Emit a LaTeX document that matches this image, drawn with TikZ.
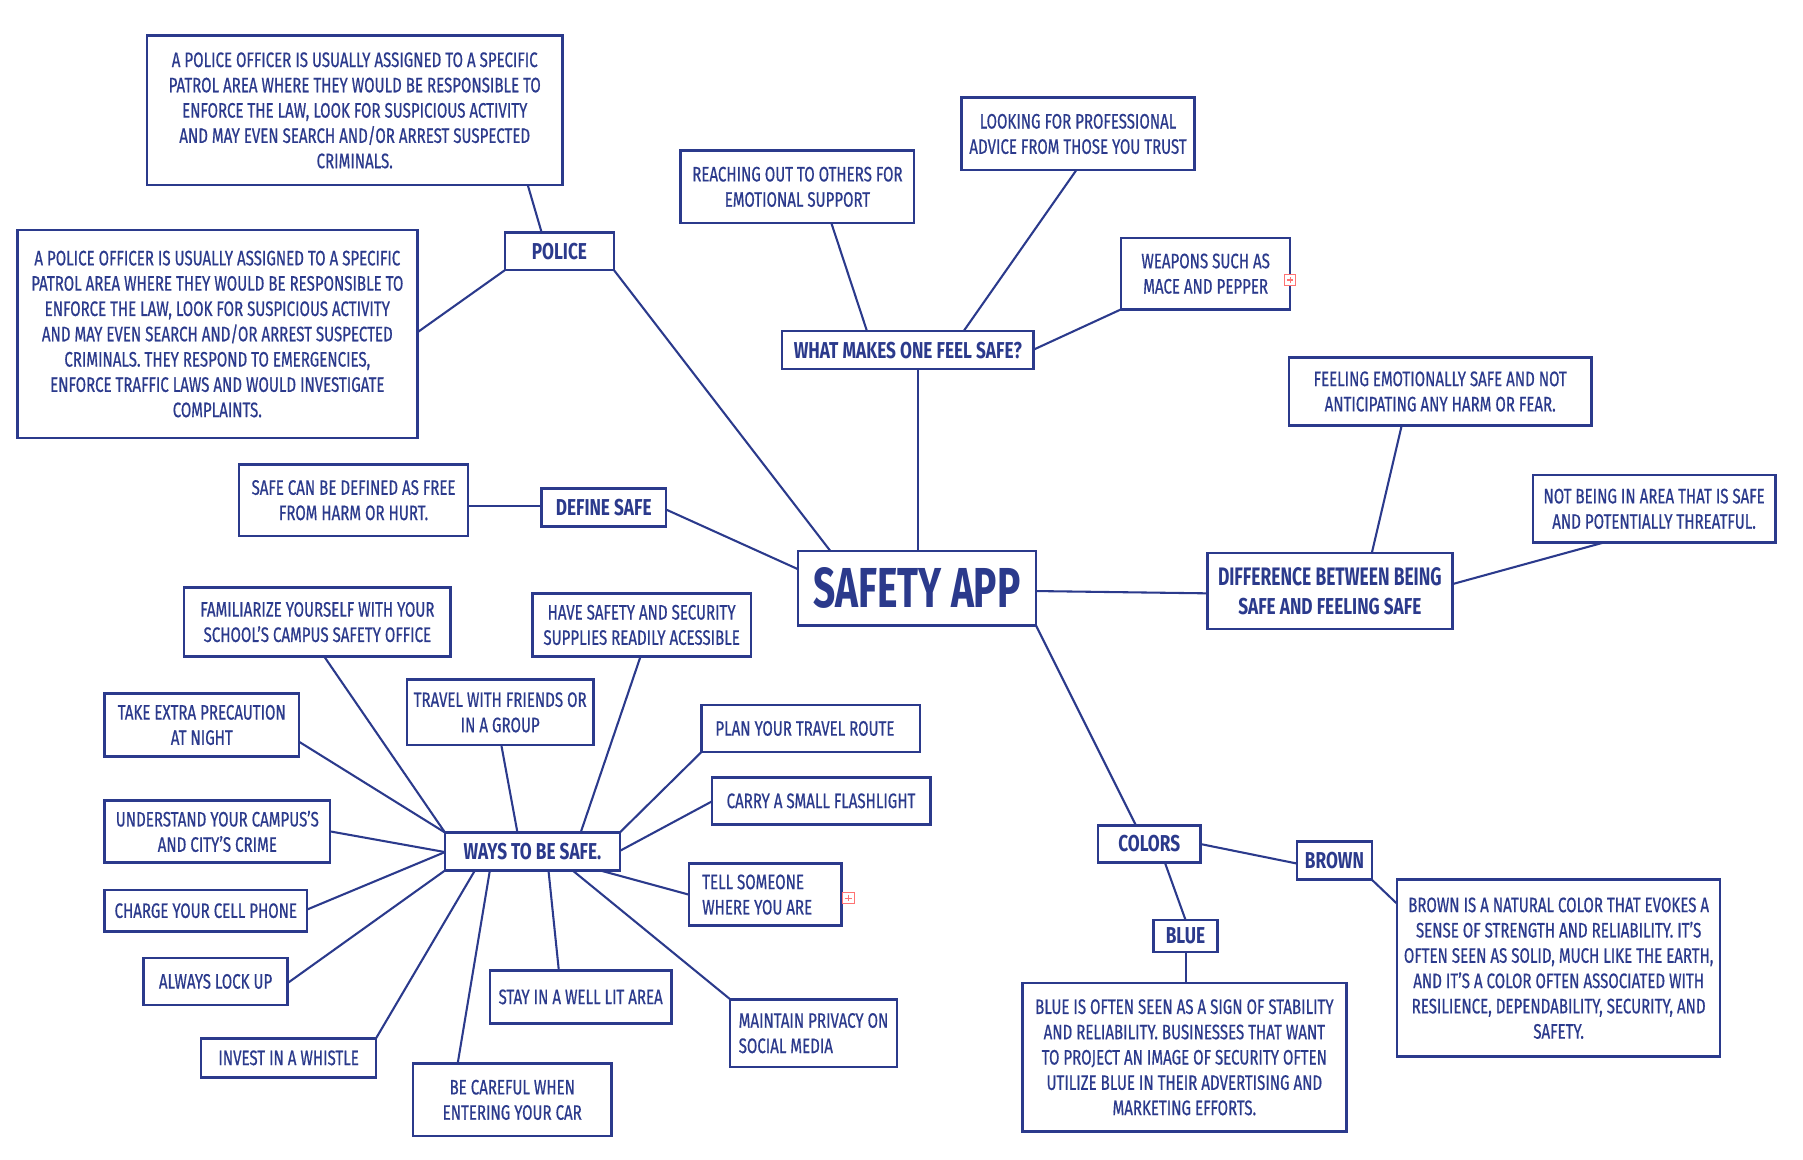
\documentclass[tikz,border=0pt]{standalone}
\usepackage{fontspec}
\setmainfont{Fira Sans}[FakeStretch=0.75]
\newfontfamily\regfont{Fira Sans}[FakeStretch=0.72, FakeBold=0.6]
\newfontfamily\titlefont{Fira Sans}[FakeStretch=0.69]
\usetikzlibrary{calc}
\definecolor{navy}{RGB}{43,58,140}
\newcommand\bnode[7]{\node[#2, minimum width={(#5-#3)*0.5pt}, minimum height={(#6-#4)*0.5pt}] (#1) at ({(#3+#5)/2},{(#4+#6)/2}) {#7};}
\begin{document}
\begin{tikzpicture}[x=0.5pt,y=-0.5pt,
  box/.style={draw=navy, line width=1.1pt, text=navy, fill=white, inner sep=0pt, outer sep=0pt, align=center, font=\regfont\fontsize{9.1}{11}\selectfont},
  hbox/.style={box, font=\bfseries\fontsize{10}{12.5}\selectfont},
  lbox/.style={box, align=left},
  link/.style={draw=navy, line width=0.9pt},
  icon/.style={draw=red!55, fill=white, line width=0.45pt, minimum size=5pt, inner sep=0pt,
    path picture={\draw[red!55, line width=0.45pt] ($(path picture bounding box.north)!0.22!(path picture bounding box.south)$) -- ($(path picture bounding box.north)!0.78!(path picture bounding box.south)$) ($(path picture bounding box.west)!0.22!(path picture bounding box.east)$) -- ($(path picture bounding box.west)!0.78!(path picture bounding box.east)$);}}]
\useasboundingbox[fill=white] (0,0) rectangle (1568,1008);

% police branch
\bnode{p1}{box}{128}{31}{489}{161}{A POLICE OFFICER IS USUALLY ASSIGNED TO A SPECIFIC\\PATROL AREA WHERE THEY WOULD BE RESPONSIBLE TO\\ENFORCE THE LAW, LOOK FOR SUSPICIOUS ACTIVITY\\AND MAY EVEN SEARCH AND/OR ARREST SUSPECTED\\CRIMINALS.}
\bnode{p2}{box}{15}{200}{363}{381}{A POLICE OFFICER IS USUALLY ASSIGNED TO A SPECIFIC\\PATROL AREA WHERE THEY WOULD BE RESPONSIBLE TO\\ENFORCE THE LAW, LOOK FOR SUSPICIOUS ACTIVITY\\AND MAY EVEN SEARCH AND/OR ARREST SUSPECTED\\CRIMINALS. THEY RESPOND TO EMERGENCIES,\\ENFORCE TRAFFIC LAWS AND WOULD INVESTIGATE\\COMPLAINTS.}
\bnode{police}{hbox}{439}{202}{534}{235}{POLICE}

% define safe
\bnode{sdef}{box}{208}{404}{407}{466}{SAFE CAN BE DEFINED AS FREE\\FROM HARM OR HURT.}
\bnode{define}{hbox}{471}{425}{579}{458}{DEFINE SAFE}

% center
\bnode{app}{box}{694}{479}{901}{544}{\titlefont\bfseries\fontsize{24.5}{28}\selectfont SAFETY APP}

% what makes one feel safe
\bnode{what}{hbox}{680}{288}{899}{321}{WHAT MAKES ONE FEEL SAFE?}
\bnode{reach}{box}{592}{131}{795}{194}{REACHING OUT TO OTHERS FOR\\EMOTIONAL SUPPORT}
\bnode{look}{box}{836}{85}{1039}{148}{LOOKING FOR PROFESSIONAL\\ADVICE FROM THOSE YOU TRUST}
\bnode{weap}{box}{975}{207}{1122}{269}{WEAPONS SUCH AS\\MACE AND PEPPER}
\node[icon] (icw) at (1122,243.5) {};

% difference
\bnode{diff}{hbox}{1050}{481}{1263}{547}{\titlefont\bfseries\fontsize{11}{12.8}\selectfont DIFFERENCE BETWEEN BEING\\SAFE AND FEELING SAFE}
\bnode{feel}{box}{1121}{311}{1384}{370}{FEELING EMOTIONALLY SAFE AND NOT\\ANTICIPATING ANY HARM OR FEAR.}
\bnode{notb}{box}{1333}{413}{1544}{472}{NOT BEING IN AREA THAT IS SAFE\\AND POTENTIALLY THREATFUL.}

% colors
\bnode{colors}{hbox}{955}{718}{1044}{750}{COLORS}
\bnode{brown}{hbox}{1128}{732}{1193}{765}{BROWN}
\bnode{blue}{hbox}{1003}{800}{1059}{828}{BLUE}
\bnode{bluet}{box}{889}{855}{1171}{984}{BLUE IS OFTEN SEEN AS A SIGN OF STABILITY\\AND RELIABILITY. BUSINESSES THAT WANT\\TO PROJECT AN IMAGE OF SECURITY OFTEN\\UTILIZE BLUE IN THEIR ADVERTISING AND\\MARKETING EFFORTS.}
\bnode{brownt}{box}{1215}{765}{1496}{919}{BROWN IS A NATURAL COLOR THAT EVOKES A\\SENSE OF STRENGTH AND RELIABILITY. IT’S\\OFTEN SEEN AS SOLID, MUCH LIKE THE EARTH,\\AND IT’S A COLOR OFTEN ASSOCIATED WITH\\RESILIENCE, DEPENDABILITY, SECURITY, AND\\SAFETY.}

% ways to be safe
\bnode{ways}{hbox}{387}{724}{539}{757}{WAYS TO BE SAFE.}
\bnode{fam}{box}{160}{511}{392}{571}{FAMILIARIZE YOURSELF WITH YOUR\\SCHOOL’S CAMPUS SAFETY OFFICE}
\bnode{have}{box}{463}{516}{653}{571}{HAVE SAFETY AND SECURITY\\SUPPLIES READILY ACESSIBLE}
\bnode{take}{box}{91}{603}{260}{658}{TAKE EXTRA PRECAUTION\\AT NIGHT}
\bnode{travel}{box}{354}{591}{516}{648}{TRAVEL WITH FRIENDS OR\\IN A GROUP}
\bnode{plan}{box}{610}{613}{800}{654}{PLAN YOUR TRAVEL ROUTE\hspace*{5pt}}
\bnode{carry}{box}{619}{676}{809}{717}{CARRY A SMALL FLASHLIGHT}
\bnode{tell}{lbox}{599}{751}{732}{805}{TELL SOMEONE\\WHERE YOU ARE\hspace*{7pt}}
\node[icon] (ict) at (738,781) {};
\bnode{under}{box}{91}{696}{287}{750}{UNDERSTAND YOUR CAMPUS’S\\AND CITY’S CRIME}
\bnode{charge}{box}{91}{774}{267}{810}{CHARGE YOUR CELL PHONE}
\bnode{lock}{box}{125}{833}{250}{874}{ALWAYS LOCK UP}
\bnode{whistle}{box}{175}{903}{327}{937}{INVEST IN A WHISTLE}
\bnode{careful}{box}{359}{925}{532}{988}{BE CAREFUL WHEN\\ENTERING YOUR CAR}
\bnode{stay}{box}{426}{844}{584}{890}{STAY IN A WELL LIT AREA}
\bnode{maint}{lbox}{635}{869}{780}{928}{MAINTAIN PRIVACY ON\\SOCIAL MEDIA}

% connectors
\draw[link] ($(p1.north west)+(331,130)$) -- ($(police.north west)+(32,0)$);
\draw[link] ($(p2.north west)+(348,89)$) -- ($(police.north west)+(0,33)$);
\draw[link] ($(police.north west)+(95,33)$) -- ($(app.north west)+(28,0)$);
\draw[link] ($(sdef.north west)+(199,36)$) -- ($(define.north west)+(0,15)$);
\draw[link] ($(define.north west)+(108,18)$) -- ($(app.north west)+(0,16)$);
\draw[link] ($(app.north west)+(104,0)$) -- ($(what.north west)+(118,33)$);
\draw[link] ($(what.north west)+(74,0)$) -- ($(reach.north west)+(131,63)$);
\draw[link] ($(what.north west)+(158,0)$) -- ($(look.north west)+(100,63)$);
\draw[link] ($(what.north west)+(219,16)$) -- ($(weap.north west)+(0,62)$);
\draw[link] ($(app.north west)+(207,35)$) -- ($(diff.north west)+(0,35)$);
\draw[link] ($(diff.north west)+(143,0)$) -- ($(feel.north west)+(98,59)$);
\draw[link] ($(diff.north west)+(213,27)$) -- ($(notb.north west)+(61,59)$);
\draw[link] ($(app.north west)+(207,65)$) -- ($(colors.north west)+(33,0)$);
\draw[link] ($(colors.north west)+(89,16)$) -- ($(brown.north west)+(0,19)$);
\draw[link] ($(colors.north west)+(58,32)$) -- ($(blue.north west)+(28,0)$);
\draw[link] ($(blue.north west)+(28,28)$) -- ($(bluet.north west)+(142,0)$);
\draw[link] ($(brown.north west)+(65,33)$) -- ($(brownt.north west)+(0,21)$);
\draw[link] ($(fam.north west)+(122,60)$) -- (ways.north west);
\draw[link] ($(take.north west)+(169,42)$) -- (ways.north west);
\draw[link] ($(under.north west)+(196,27)$) -- ($(ways.north west)+(0,17)$);
\draw[link] ($(charge.north west)+(176,17)$) -- ($(ways.north west)+(0,17)$);
\draw[link] ($(lock.north west)+(125,22)$) -- ($(ways.north west)+(0,33)$);
\draw[link] ($(whistle.north west)+(152,0)$) -- ($(ways.north west)+(26,33)$);
\draw[link] ($(careful.north west)+(39,0)$) -- ($(ways.north west)+(39,33)$);
\draw[link] ($(stay.north west)+(60,0)$) -- ($(ways.north west)+(90,33)$);
\draw[link] (maint.north west) -- ($(ways.north west)+(111,33)$);
\draw[link] ($(tell.north west)+(0,27)$) -- ($(ways.north west)+(135,33)$);
\draw[link] ($(carry.north west)+(0,21)$) -- ($(ways.north west)+(152,16)$);
\draw[link] ($(plan.north west)+(0,41)$) -- ($(ways.north west)+(152,0)$);
\draw[link] ($(have.north west)+(94,55)$) -- ($(ways.north west)+(118,0)$);
\draw[link] ($(travel.north west)+(82,57)$) -- ($(ways.north west)+(63,0)$);
\end{tikzpicture}
\end{document}
